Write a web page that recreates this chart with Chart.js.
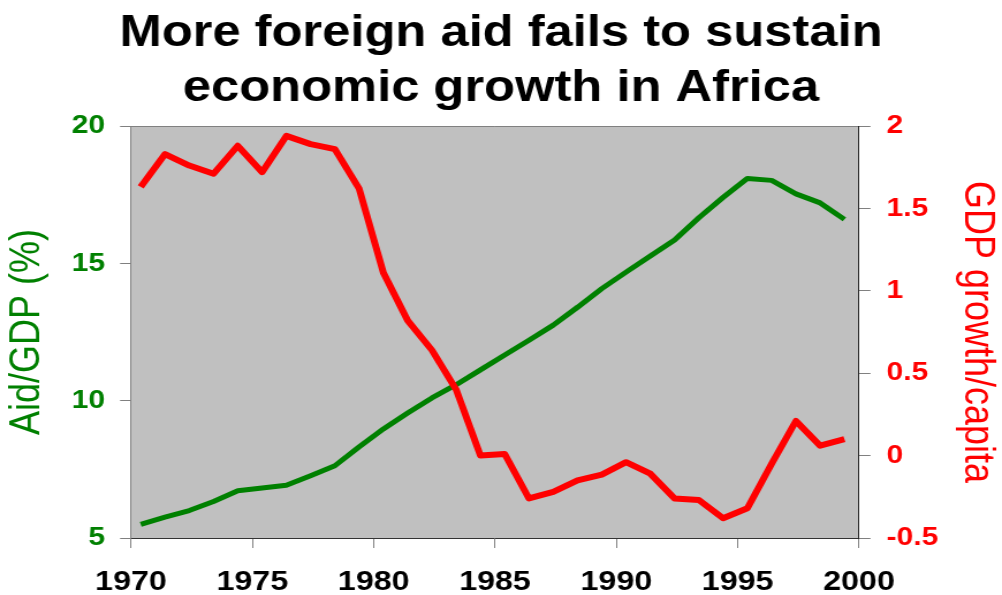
<!DOCTYPE html>
<html>
<head>
<meta charset="utf-8">
<script src="https://cdn.jsdelivr.net/npm/chart.js@4/dist/chart.umd.min.js"></script>
<style>
html, body { margin: 0; padding: 0; background: #fff; overflow: hidden; }
/* the original picture is stretched sideways, so the canvas is too */
#wrap { width: 870px; height: 595px; transform: scaleX(1.1517); transform-origin: 0 0; }
</style>
</head>
<body>
<div id="wrap"><canvas id="aidChart" width="870" height="595"></canvas></div>
<script>
const years = [1970, 1971, 1972, 1973, 1974, 1975, 1976, 1977, 1978, 1979,
               1980, 1981, 1982, 1983, 1984, 1985, 1986, 1987, 1988, 1989,
               1990, 1991, 1992, 1993, 1994, 1995, 1996, 1997, 1998, 1999];
const aidGdp = [5.5, 5.76, 6.0, 6.33, 6.72, 6.82, 6.92, 7.27, 7.63, 8.32,
                8.97, 9.55, 10.1, 10.58, 11.12, 11.66, 12.2, 12.75, 13.4, 14.08,
                14.68, 15.27, 15.85, 16.66, 17.4, 18.09, 18.02, 17.53, 17.2, 16.6];
const gdpGrowth = [1.63, 1.83, 1.76, 1.71, 1.88, 1.72, 1.94, 1.89, 1.86, 1.62,
                   1.11, 0.82, 0.64, 0.4, 0.0, 0.01, -0.26, -0.22, -0.15, -0.115,
                   -0.04, -0.11, -0.26, -0.27, -0.38, -0.32, -0.05, 0.21, 0.06, 0.1];
const yearTicks = [1970, 1975, 1980, 1985, 1990, 1995, 2000];
const aidTicks = [5, 10, 15, 20];
const growthTicks = [-0.5, 0, 0.5, 1, 1.5, 2];

const midYear = 0.4; // values sit a little into each year
const font = 'Liberation Sans, Arial, sans-serif';

const plotBackground = {
    id: 'plotBackground',
    beforeDraw(chart) {
        const { ctx, chartArea: a } = chart;
        ctx.save();
        ctx.fillStyle = '#c0c0c0';
        ctx.fillRect(a.left, a.top, a.right - a.left, a.bottom - a.top);
        ctx.strokeStyle = '#808080';
        ctx.lineWidth = 1;
        ctx.beginPath();
        ctx.moveTo(a.left, a.top + 0.5);
        ctx.lineTo(a.right, a.top + 0.5);
        ctx.stroke();
        ctx.restore();
    }
};

const ctx = document.getElementById('aidChart').getContext('2d');
const aidChart = new Chart(ctx, {
    type: 'line',
    data: {
        datasets: [{
            label: 'GDP growth/capita',
            data: years.map((y, i) => ({ x: y + midYear, y: gdpGrowth[i] })),
            yAxisID: 'y1',
            borderColor: '#ff0000',
            borderWidth: 6,
            borderJoinStyle: 'round',
            pointRadius: 0,
            tension: 0
        }, {
            label: 'Aid/GDP (%)',
            data: years.map((y, i) => ({ x: y + midYear, y: aidGdp[i] })),
            yAxisID: 'y',
            borderColor: '#008000',
            borderWidth: 5,
            borderJoinStyle: 'round',
            pointRadius: 0,
            tension: 0
        }]
    },
    options: {
        responsive: false,
        animation: false,
        devicePixelRatio: 1,
        layout: { padding: 0 },
        plugins: {
            legend: { display: false },
            tooltip: { enabled: false },
            title: {
                display: true,
                text: ['More foreign aid fails to sustain', 'economic growth in Africa'],
                color: '#000',
                font: { family: font, size: 44, weight: 'bold', lineHeight: 1.25 },
                padding: { top: 6, bottom: 10 }
            }
        },
        scales: {
            x: {
                type: 'linear',
                position: 'bottom',
                min: 1970,
                max: 2000,
                afterBuildTicks: s => { s.ticks = yearTicks.map(v => ({ value: v })); },
                afterFit: s => { s.height = 57; },
                ticks: {
                    color: '#000',
                    font: { family: font, size: 28, weight: 'bold' },
                    padding: 17,
                    maxRotation: 0,
                    autoSkip: false,
                    callback: v => String(v)
                },
                grid: { drawOnChartArea: false, tickLength: 10, color: '#808080' },
                border: { color: '#333' }
            },
            y: {
                position: 'left',
                min: 5,
                max: 20,
                afterBuildTicks: s => { s.ticks = aidTicks.map(v => ({ value: v })); },
                afterFit: s => { s.width = 113.75; },
                ticks: {
                    color: '#008000',
                    font: { family: font, size: 26, weight: 'bold' },
                    padding: 13,
                    callback: v => String(v)
                },
                grid: { drawOnChartArea: false, tickLength: 9.5, color: '#808080' },
                border: { color: '#808080' },
                title: {
                    display: true,
                    text: 'Aid/GDP (%)',
                    color: '#008000',
                    font: { family: font, size: 36 },
                    padding: { top: 2, bottom: 0 }
                }
            },
            y1: {
                position: 'right',
                min: -0.5,
                max: 2,
                afterBuildTicks: s => { s.ticks = growthTicks.map(v => ({ value: v })); },
                afterFit: s => { s.width = 124.15; },
                ticks: {
                    color: '#ff0000',
                    font: { family: font, size: 26, weight: 'bold' },
                    padding: 14,
                    callback: v => String(v)
                },
                grid: { drawOnChartArea: false, tickLength: 10, color: '#808080' },
                border: { color: '#222' },
                title: {
                    display: true,
                    text: 'GDP growth/capita',
                    color: '#ff0000',
                    font: { family: font, size: 36 },
                    padding: { top: 0, bottom: 0 }
                }
            }
        }
    },
    plugins: [plotBackground]
});
</script>
</body>
</html>
